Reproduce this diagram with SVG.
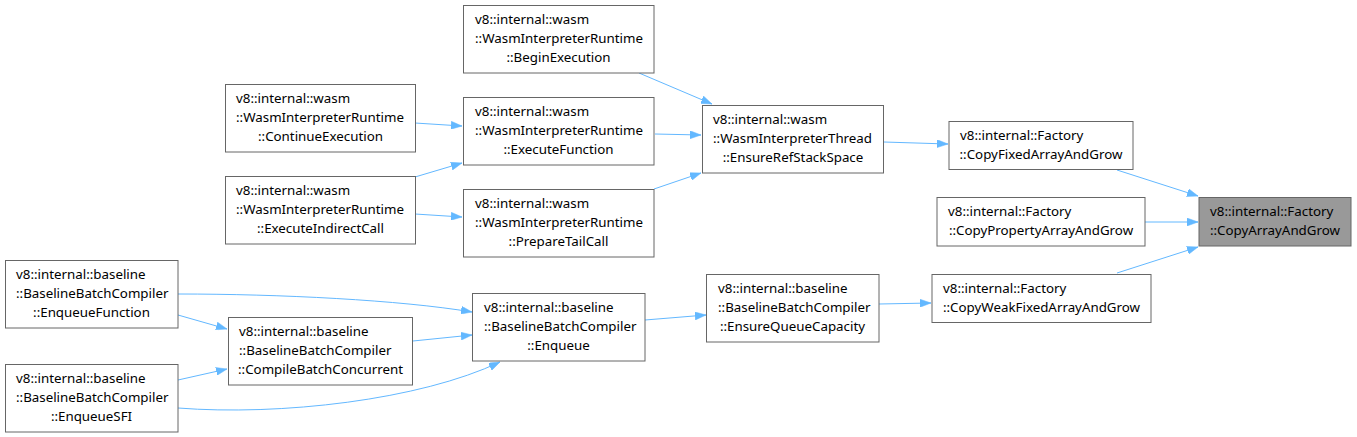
<svg xmlns="http://www.w3.org/2000/svg" width="1357" height="437" viewBox="0 0 1357 437">
<style>
.n rect{fill:#ffffff;stroke:#666666;stroke-width:1}
.n.t rect{fill:#999999}
text{font-family:"Noto Sans","DejaVu Sans",sans-serif;font-size:13.33px;fill:#000000}
.c{text-anchor:middle}
.e path{fill:none;stroke:#63b8ff;stroke-width:1;marker-end:url(#ah)}
</style>
<defs>
<marker id="ah" viewBox="0 0 11 8" refX="11" refY="4" markerWidth="11" markerHeight="8" markerUnits="userSpaceOnUse" orient="auto">
<path d="M0,0 L11,4 L0,8 z" fill="#63b8ff" stroke="#63b8ff" stroke-width="0.5"/>
</marker>
</defs>
<rect width="1357" height="437" fill="#ffffff"/>
<g id="edges" class="e">
<path d="M1117,170 L1198,196"/>
<path d="M1145,222 L1198,222"/>
<path d="M1117,273 L1198,247"/>
<path d="M884,142 L948,144"/>
<path d="M639,73 L712,104"/>
<path d="M655,134 L701,135"/>
<path d="M654,189 L701,173"/>
<path d="M415,123 L462,126"/>
<path d="M415,177 L462,163"/>
<path d="M415,214 L462,217"/>
<path d="M879,304 L931,303"/>
<path d="M645,320 L706,315"/>
<path d="M178,294 C280,294 400,300 472,312"/>
<path d="M178,315 L227,329"/>
<path d="M413,341 L472,335"/>
<path d="M178,380 L227,369"/>
<path d="M178,408 C280,416 420,400 500,362"/>
</g>
<g id="n_target" class="n t">
<rect x="1199" y="197.5" width="152" height="48.5"/>
<text x="1210" y="216">v8::internal::Factory</text>
<text x="1275" y="235" class="c">::CopyArrayAndGrow</text>
</g>
<g id="n_copyfixed" class="n">
<rect x="949" y="121.5" width="184" height="48"/>
<text x="960" y="140">v8::internal::Factory</text>
<text x="1041" y="159" class="c">::CopyFixedArrayAndGrow</text>
</g>
<g id="n_copyprop" class="n">
<rect x="937" y="197.5" width="208" height="48.5"/>
<text x="948" y="216">v8::internal::Factory</text>
<text x="1041" y="235" class="c">::CopyPropertyArrayAndGrow</text>
</g>
<g id="n_copyweak" class="n">
<rect x="932" y="274.5" width="219" height="48"/>
<text x="943" y="293">v8::internal::Factory</text>
<text x="1041.5" y="312" class="c">::CopyWeakFixedArrayAndGrow</text>
</g>
<g id="n_ensureref" class="n">
<rect x="702.5" y="105.5" width="181" height="67.5"/>
<text x="713" y="124">v8::internal::wasm</text>
<text x="713" y="143">::WasmInterpreterThread</text>
<text x="793" y="162" class="c">::EnsureRefStackSpace</text>
</g>
<g id="n_begin" class="n">
<rect x="463.5" y="5.5" width="190.5" height="67.5"/>
<text x="475" y="24">v8::internal::wasm</text>
<text x="475" y="43">::WasmInterpreterRuntime</text>
<text x="558.5" y="62" class="c">::BeginExecution</text>
</g>
<g id="n_execfn" class="n">
<rect x="463.5" y="97.5" width="190.5" height="67.5"/>
<text x="475" y="116">v8::internal::wasm</text>
<text x="475" y="135">::WasmInterpreterRuntime</text>
<text x="558.5" y="154" class="c">::ExecuteFunction</text>
</g>
<g id="n_tail" class="n">
<rect x="463.5" y="189.5" width="190.5" height="67.5"/>
<text x="475" y="208">v8::internal::wasm</text>
<text x="475" y="227">::WasmInterpreterRuntime</text>
<text x="558.5" y="246" class="c">::PrepareTailCall</text>
</g>
<g id="n_continue" class="n">
<rect x="225.5" y="84.5" width="190" height="67.5"/>
<text x="236" y="103">v8::internal::wasm</text>
<text x="236" y="122">::WasmInterpreterRuntime</text>
<text x="320.5" y="141" class="c">::ContinueExecution</text>
</g>
<g id="n_indirect" class="n">
<rect x="225.5" y="176.5" width="190" height="67.5"/>
<text x="236" y="195">v8::internal::wasm</text>
<text x="236" y="214">::WasmInterpreterRuntime</text>
<text x="320.5" y="233" class="c">::ExecuteIndirectCall</text>
</g>
<g id="n_ensureq" class="n">
<rect x="706.5" y="274.5" width="172.5" height="67.5"/>
<text x="718" y="293">v8::internal::baseline</text>
<text x="718" y="312">::BaselineBatchCompiler</text>
<text x="792.5" y="331" class="c">::EnsureQueueCapacity</text>
</g>
<g id="n_enqueue" class="n">
<rect x="472.5" y="293.5" width="172.5" height="67.5"/>
<text x="484" y="312">v8::internal::baseline</text>
<text x="484" y="331">::BaselineBatchCompiler</text>
<text x="558.5" y="350" class="c">::Enqueue</text>
</g>
<g id="n_enqfn" class="n">
<rect x="5.5" y="260.5" width="172.5" height="67.5"/>
<text x="16" y="279">v8::internal::baseline</text>
<text x="16" y="298">::BaselineBatchCompiler</text>
<text x="91.5" y="317" class="c">::EnqueueFunction</text>
</g>
<g id="n_compile" class="n">
<rect x="228.5" y="317.5" width="184" height="67.5"/>
<text x="239" y="336">v8::internal::baseline</text>
<text x="239" y="355">::BaselineBatchCompiler</text>
<text x="320.5" y="374" class="c">::CompileBatchConcurrent</text>
</g>
<g id="n_enqsfi" class="n">
<rect x="5.5" y="364.5" width="172.5" height="67.5"/>
<text x="16" y="383">v8::internal::baseline</text>
<text x="16" y="402">::BaselineBatchCompiler</text>
<text x="91.5" y="421" class="c">::EnqueueSFI</text>
</g>
</svg>
